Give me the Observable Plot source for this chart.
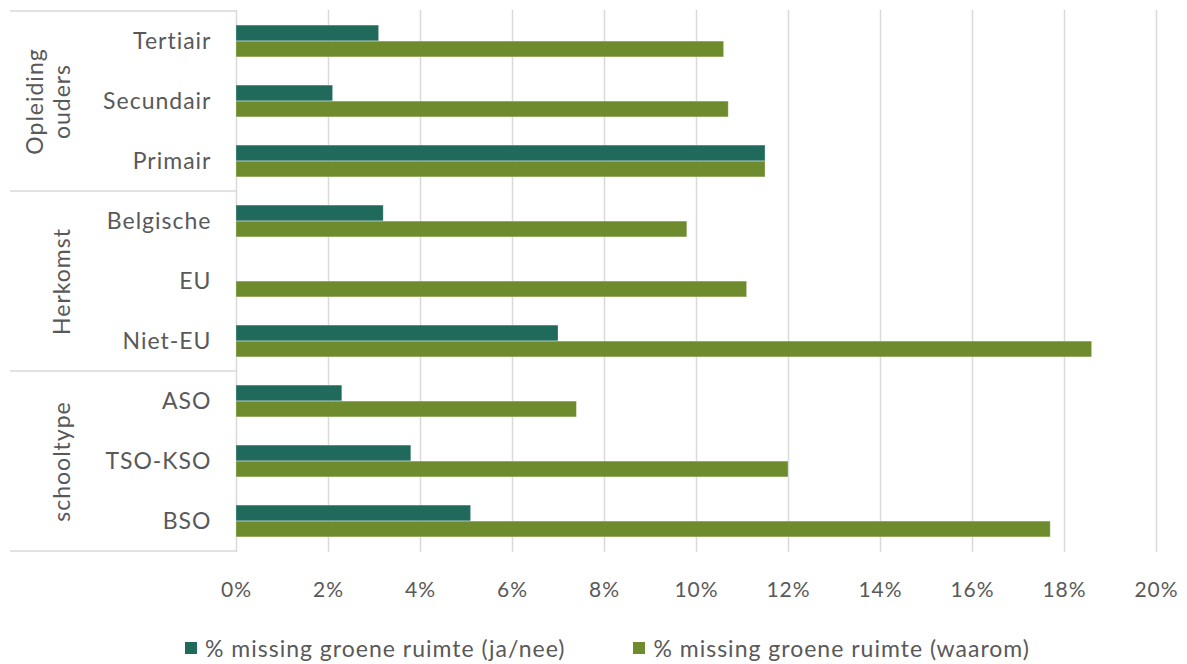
<!DOCTYPE html>
<html>
<head>
<meta charset="utf-8">
<script src="https://cdn.jsdelivr.net/npm/d3@7"></script>
<script src="https://cdn.jsdelivr.net/npm/@observablehq/plot@0.6"></script>
<style>
  body { margin: 0; background: #fff; font-family: Lato, sans-serif; }
  #chart { width: 1187px; }
  .legend { display: flex; justify-content: center; gap: 68px; margin-top: 19px; padding-left: 28px; font-size: 23px; letter-spacing: 1px; color: #595959; }
  .legend span.item { display: flex; align-items: center; }
  .legend span.sw { display: inline-block; width: 12px; height: 12px; margin-right: 8px; }
  svg text { letter-spacing: 1px; }
</style>
</head>
<body>
<div id="chart"></div>
<script>
const categories = ["Tertiair", "Secundair", "Primair", "Belgische", "EU", "Niet-EU", "ASO", "TSO-KSO", "BSO"];
const jaNee = [3.1, 2.1, 11.5, 3.2, null, 7.0, 2.3, 3.8, 5.1];
const waarom = [10.6, 10.7, 11.5, 9.8, 11.1, 18.6, 7.4, 12.0, 17.7];
const groupNames = ["Opleiding\nouders", "Herkomst", "schooltype"];
const groupMembers = [["Tertiair", "Secundair", "Primair"], ["Belgische", "EU", "Niet-EU"], ["ASO", "TSO-KSO", "BSO"]];
const seriesNames = ["% missing groene ruimte (ja/nee)", "% missing groene ruimte (waarom)"];
const seriesColors = ["#1F6A5A", "#6E8B2E"];
const xTicks = [0, 0.02, 0.04, 0.06, 0.08, 0.10, 0.12, 0.14, 0.16, 0.18, 0.20];

const W = 1187, H = 615, mT = 10, mB = 63, mL = 236, mR = 31;
const bw = (H - mT - mB) / categories.length;
const barH = 16;

const rowsA = categories.map((c, i) => ({cat: c, v: jaNee[i] == null ? null : jaNee[i] / 100})).filter(d => d.v != null);
const rowsB = categories.map((c, i) => ({cat: c, v: waarom[i] / 100}));
const groups = groupNames.map((g, i) => ({name: g, mid: groupMembers[i][1]}));

const font = "Lato, sans-serif";
const plot = Plot.plot({
  width: W, height: H,
  marginTop: mT, marginBottom: mB, marginLeft: mL, marginRight: mR,
  style: {fontFamily: font, fontSize: "23px", color: "#595959", background: "#fff"},
  x: {domain: [0, 0.2], ticks: xTicks, tickFormat: d => Math.round(d * 100) + "%", label: null},
  y: {domain: categories, padding: 0, label: null},
  marks: [
    Plot.ruleX(xTicks, {stroke: "#D9D9D9", strokeWidth: 1.5}),
    Plot.barX(rowsA, {y: "cat", x: "v", fill: seriesColors[0], insetTop: bw / 2 - barH, insetBottom: bw / 2, stroke: "#ffffff", strokeOpacity: 0.35, strokeWidth: 0.8}),
    Plot.barX(rowsB, {y: "cat", x: "v", fill: seriesColors[1], insetTop: bw / 2, insetBottom: bw / 2 - barH, stroke: "#ffffff", strokeOpacity: 0.35, strokeWidth: 0.8}),
    Plot.axisX({ticks: xTicks, tickFormat: d => Math.round(d * 100) + "%", tickSize: 0, tickPadding: 30, fill: "#595959", fontSize: 21, label: null}),
    Plot.axisY({tickSize: 0, tickPadding: 25, fill: "#595959", fontSize: 23, label: null}),
    Plot.text(groups, {y: "mid", text: "name", frameAnchor: "left", dx: -167, rotate: -90, lineAnchor: "bottom", textAnchor: "middle", fill: "#595959", fontSize: 23, lineHeight: 1.15})
  ]
});

// group separator lines in the left margin, placed from the library's y scale
const ys = plot.scale("y");
const svg = d3.select(plot);
const g = svg.append("g").attr("stroke", "#D9D9D9").attr("stroke-width", 1.5);
const bounds = groupMembers.map(m => ys.apply(m[0]));
bounds.push(ys.apply(categories[categories.length - 1]) + ys.bandwidth);
bounds.forEach(y => g.append("line").attr("x1", 10).attr("x2", mL).attr("y1", y).attr("y2", y));

document.getElementById("chart").appendChild(plot);

const legend = document.createElement("div");
legend.className = "legend";
seriesNames.forEach((n, i) => {
  const it = document.createElement("span");
  it.className = "item";
  const sw = document.createElement("span");
  sw.className = "sw";
  sw.style.background = seriesColors[i];
  it.appendChild(sw);
  it.appendChild(document.createTextNode(n));
  legend.appendChild(it);
});
document.getElementById("chart").appendChild(legend);
</script>
</body>
</html>
